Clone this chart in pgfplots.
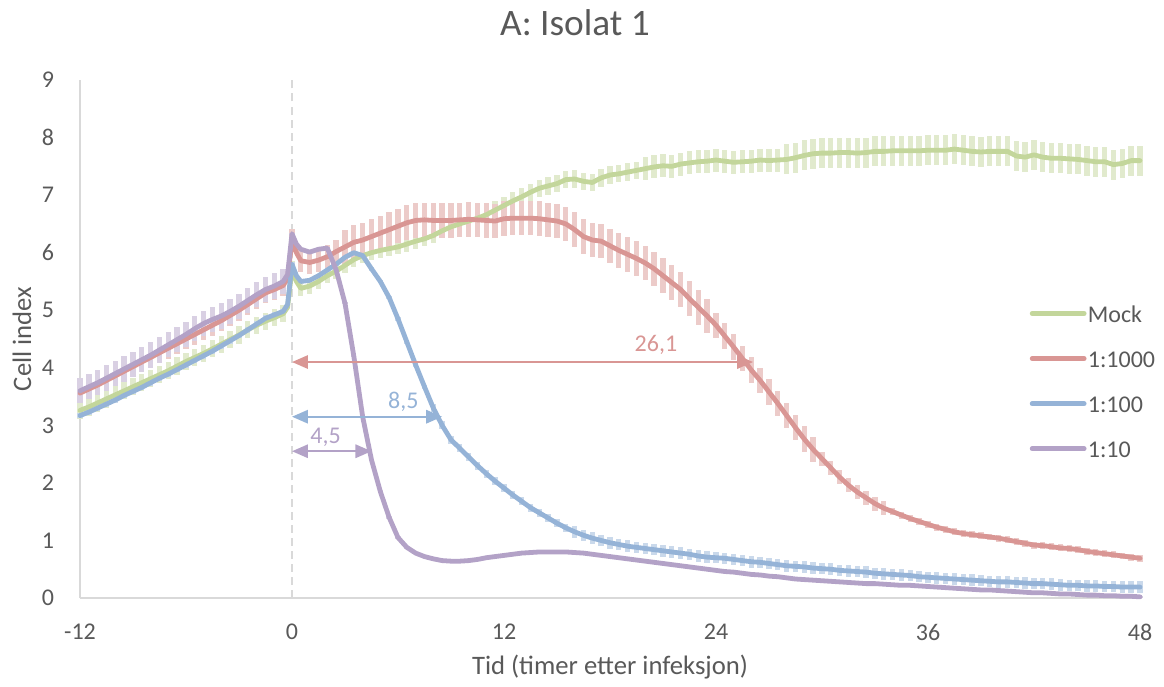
\documentclass[border=0pt]{standalone}
\usepackage{pgfplots}
\pgfplotsset{compat=1.18}
\usepackage{pgfplotstable}
\usepackage{fontspec}
\setmainfont{Carlito}
\usetikzlibrary{arrows.meta}

\definecolor{txt}{HTML}{595959}
\definecolor{axisgray}{HTML}{D9D9D9}
\definecolor{mock}{HTML}{C3D69B}
\definecolor{dilA}{HTML}{D99694}
\definecolor{dilB}{HTML}{95B3D7}
\definecolor{dilC}{HTML}{B3A2C7}

% columns: time (h), mean cell index, standard deviation
\pgfplotstableread{
t v e
-12 3.26 0.15
-11.5 3.32 0.15
-11 3.39 0.15
-10.5 3.46 0.15
-10 3.53 0.15
-9.5 3.60 0.15
-9 3.67 0.15
-8.5 3.74 0.15
-8 3.81 0.15
-7.5 3.88 0.15
-7 3.95 0.15
-6.5 4.03 0.15
-6 4.11 0.15
-5.5 4.18 0.15
-5 4.25 0.15
-4.5 4.33 0.15
-4 4.41 0.15
-3.5 4.49 0.15
-3 4.57 0.15
-2.5 4.66 0.15
-2 4.74 0.15
-1.5 4.81 0.15
-1 4.87 0.15
-0.5 4.94 0.15
-0.25 5.05 0
0 5.72 0.13
0.25 5.50 0
0.5 5.38 0.13
1 5.42 0.13
1.5 5.50 0.13
2 5.60 0.13
2.5 5.68 0.13
3 5.78 0.13
3.5 5.88 0.13
4 5.95 0.13
4.5 6.00 0.13
5 6.04 0.13
5.5 6.07 0.13
6 6.10 0.13
6.5 6.15 0.13
7 6.20 0.13
7.5 6.24 0.13
8 6.30 0.13
8.5 6.38 0.13
9 6.45 0.13
9.5 6.50 0.13
10 6.55 0.15
10.5 6.60 0.15
11 6.66 0.15
11.5 6.74 0.15
12 6.82 0.15
12.5 6.90 0.15
13 6.97 0.15
13.5 7.05 0.15
14 7.12 0.15
14.5 7.16 0.15
15 7.20 0.15
15.5 7.27 0.15
16 7.28 0.15
16.5 7.24 0.15
17 7.22 0.15
17.5 7.30 0.15
18 7.35 0.15
18.5 7.37 0.15
19 7.40 0.15
19.5 7.43 0.15
20 7.46 0.2
20.5 7.49 0.2
21 7.51 0.2
21.5 7.50 0.2
22 7.54 0.2
22.5 7.56 0.2
23 7.58 0.2
23.5 7.59 0.2
24 7.61 0.2
24.5 7.59 0.2
25 7.57 0.2
25.5 7.58 0.2
26 7.59 0.2
26.5 7.61 0.2
27 7.60 0.2
27.5 7.61 0.2
28 7.62 0.26
28.5 7.65 0.26
29 7.69 0.26
29.5 7.72 0.26
30 7.73 0.26
30.5 7.73 0.26
31 7.74 0.26
31.5 7.74 0.26
32 7.73 0.26
32.5 7.74 0.26
33 7.76 0.26
33.5 7.76 0.26
34 7.77 0.26
34.5 7.77 0.26
35 7.77 0.26
35.5 7.77 0.26
36 7.78 0.26
36.5 7.78 0.26
37 7.78 0.26
37.5 7.80 0.26
38 7.78 0.26
38.5 7.76 0.26
39 7.75 0.26
39.5 7.76 0.26
40 7.76 0.26
40.5 7.76 0.26
41 7.68 0.26
41.5 7.66 0.26
42 7.70 0.26
42.5 7.66 0.26
43 7.64 0.26
43.5 7.64 0.26
44 7.63 0.26
44.5 7.62 0.26
45 7.60 0.26
45.5 7.58 0.26
46 7.58 0.26
46.5 7.53 0.26
47 7.55 0.26
47.5 7.60 0.26
48 7.60 0.26
}\mock

\pgfplotstableread{
t v e
-12 3.56 0.18
-11.5 3.63 0.18
-11 3.70 0.18
-10.5 3.78 0.18
-10 3.86 0.18
-9.5 3.94 0.18
-9 4.02 0.18
-8.5 4.10 0.18
-8 4.18 0.18
-7.5 4.26 0.18
-7 4.34 0.18
-6.5 4.42 0.18
-6 4.50 0.18
-5.5 4.58 0.18
-5 4.66 0.18
-4.5 4.74 0.18
-4 4.82 0.18
-3.5 4.91 0.18
-3 5.00 0.18
-2.5 5.10 0.18
-2 5.20 0.18
-1.5 5.30 0.18
-1 5.36 0.18
-0.5 5.43 0.18
-0.25 5.55 0
0 6.22 0.2
0.25 6.00 0
0.5 5.86 0.2
1 5.83 0.2
1.5 5.87 0.2
2 5.93 0.2
2.5 6.02 0.2
3 6.10 0.3
3.5 6.18 0.3
4 6.22 0.3
4.5 6.28 0.3
5 6.34 0.3
5.5 6.40 0.3
6 6.46 0.3
6.5 6.52 0.3
7 6.56 0.3
7.5 6.57 0.3
8 6.56 0.3
8.5 6.56 0.3
9 6.56 0.3
9.5 6.57 0.3
10 6.58 0.3
10.5 6.57 0.3
11 6.56 0.3
11.5 6.55 0.3
12 6.59 0.3
12.5 6.60 0.3
13 6.60 0.3
13.5 6.60 0.3
14 6.59 0.3
14.5 6.57 0.3
15 6.55 0.3
15.5 6.50 0.3
16 6.40 0.3
16.5 6.28 0.3
17 6.22 0.3
17.5 6.20 0.3
18 6.12 0.3
18.5 6.04 0.3
19 5.97 0.3
19.5 5.90 0.3
20 5.82 0.3
20.5 5.72 0.3
21 5.60 0.3
21.5 5.48 0.3
22 5.36 0.3
22.5 5.20 0.3
23 5.05 0.3
23.5 4.90 0.3
24 4.74 0.22
24.5 4.55 0.22
25 4.36 0.22
25.5 4.16 0.22
26 3.96 0.22
26.5 3.78 0.22
27 3.58 0.22
27.5 3.38 0.22
28 3.17 0.22
28.5 2.96 0.22
29 2.76 0.22
29.5 2.58 0.22
30 2.42 0.12
30.5 2.26 0.12
31 2.10 0.12
31.5 1.96 0.12
32 1.84 0.12
32.5 1.74 0.12
33 1.64 0.12
33.5 1.56 0.12
34 1.50 0.06
34.5 1.44 0.06
35 1.38 0.06
35.5 1.33 0.06
36 1.28 0.06
36.5 1.23 0.06
37 1.19 0.06
37.5 1.15 0.06
38 1.12 0.06
38.5 1.10 0.06
39 1.08 0.06
39.5 1.06 0.06
40 1.04 0.06
40.5 1.01 0.06
41 0.98 0.06
41.5 0.95 0.06
42 0.92 0.06
42.5 0.91 0.06
43 0.89 0.06
43.5 0.87 0.06
44 0.86 0.06
44.5 0.84 0.06
45 0.81 0.06
45.5 0.79 0.06
46 0.77 0.06
46.5 0.75 0.06
47 0.73 0.06
47.5 0.71 0.06
48 0.69 0.06
}\dilthousand

\pgfplotstableread{
t v e
-12 3.17 0.05
-11.5 3.23 0.05
-11 3.30 0.05
-10.5 3.37 0.05
-10 3.44 0.05
-9.5 3.52 0.05
-9 3.59 0.05
-8.5 3.66 0.05
-8 3.74 0.05
-7.5 3.82 0.05
-7 3.89 0.05
-6.5 3.97 0.05
-6 4.05 0.05
-5.5 4.13 0.05
-5 4.21 0.05
-4.5 4.29 0.05
-4 4.38 0.05
-3.5 4.47 0.05
-3 4.56 0.05
-2.5 4.66 0.05
-2 4.76 0.05
-1.5 4.86 0.05
-1 4.92 0.05
-0.5 4.98 0.05
-0.25 5.10 0
0 5.80 0.03
0.25 5.60 0
0.5 5.50 0.03
1 5.52 0.03
1.5 5.60 0.03
2 5.70 0.03
2.5 5.80 0.03
3 5.92 0.03
3.5 6.00 0.03
4 5.95 0.03
4.5 5.72 0.03
5 5.50 0.03
5.5 5.22 0.03
6 4.85 0.03
6.5 4.45 0.03
7 4.05 0.03
7.5 3.67 0.03
8 3.30 0.07
8.5 3.00 0.07
9 2.75 0.07
9.5 2.60 0.07
10 2.45 0.07
10.5 2.30 0.07
11 2.16 0.07
11.5 2.03 0.07
12 1.91 0.07
12.5 1.79 0.07
13 1.68 0.07
13.5 1.57 0.07
14 1.48 0.07
14.5 1.39 0.07
15 1.30 0.07
15.5 1.22 0.07
16 1.15 0.1
16.5 1.09 0.1
17 1.04 0.1
17.5 1.00 0.1
18 0.96 0.1
18.5 0.93 0.1
19 0.90 0.1
19.5 0.88 0.1
20 0.86 0.1
20.5 0.84 0.1
21 0.82 0.1
21.5 0.80 0.1
22 0.78 0.1
22.5 0.76 0.1
23 0.73 0.1
23.5 0.71 0.1
24 0.70 0.1
24.5 0.69 0.1
25 0.67 0.1
25.5 0.65 0.1
26 0.63 0.1
26.5 0.62 0.1
27 0.60 0.1
27.5 0.58 0.1
28 0.56 0.1
28.5 0.55 0.1
29 0.54 0.1
29.5 0.52 0.1
30 0.51 0.1
30.5 0.50 0.1
31 0.48 0.1
31.5 0.47 0.1
32 0.46 0.1
32.5 0.45 0.1
33 0.43 0.1
33.5 0.42 0.1
34 0.41 0.1
34.5 0.40 0.1
35 0.39 0.1
35.5 0.37 0.1
36 0.36 0.1
36.5 0.35 0.1
37 0.34 0.1
37.5 0.33 0.1
38 0.32 0.1
38.5 0.31 0.1
39 0.30 0.1
39.5 0.29 0.1
40 0.28 0.1
40.5 0.28 0.1
41 0.27 0.1
41.5 0.26 0.1
42 0.25 0.1
42.5 0.25 0.1
43 0.24 0.1
43.5 0.23 0.1
44 0.22 0.1
44.5 0.22 0.1
45 0.21 0.1
45.5 0.21 0.1
46 0.20 0.1
46.5 0.20 0.1
47 0.19 0.1
47.5 0.19 0.1
48 0.19 0.1
}\dilhundred

\pgfplotstableread{
t v e
-12 3.60 0.22
-11.5 3.67 0.22
-11 3.74 0.22
-10.5 3.82 0.22
-10 3.90 0.22
-9.5 3.98 0.22
-9 4.06 0.22
-8.5 4.14 0.22
-8 4.22 0.22
-7.5 4.31 0.22
-7 4.40 0.22
-6.5 4.49 0.22
-6 4.58 0.22
-5.5 4.68 0.22
-5 4.77 0.22
-4.5 4.84 0.22
-4 4.90 0.22
-3.5 4.98 0.22
-3 5.07 0.22
-2.5 5.17 0.22
-2 5.27 0.22
-1.5 5.36 0.22
-1 5.42 0.22
-0.5 5.50 0.22
-0.25 5.62 0
0 6.33 0.02
0.25 6.15 0
0.5 6.06 0.02
1 6.01 0.02
1.5 6.06 0.02
2 6.08 0.02
2.5 5.70 0.02
3 5.12 0.02
3.5 4.20 0.02
4 3.15 0.02
4.5 2.40 0.02
5 1.85 0.02
5.5 1.40 0.02
6 1.05 0.02
6.5 0.88 0.02
7 0.78 0.02
7.5 0.72 0.02
8 0.68 0.02
8.5 0.65 0.02
9 0.64 0.02
9.5 0.64 0.02
10 0.65 0.02
10.5 0.67 0.02
11 0.70 0.02
11.5 0.72 0.02
12 0.74 0.02
12.5 0.76 0.02
13 0.78 0.02
13.5 0.79 0.02
14 0.80 0.02
14.5 0.80 0.02
15 0.80 0.02
15.5 0.80 0.02
16 0.79 0.02
16.5 0.78 0.02
17 0.76 0.02
17.5 0.74 0.02
18 0.72 0.02
18.5 0.70 0.02
19 0.68 0.02
19.5 0.66 0.02
20 0.64 0.02
20.5 0.62 0.02
21 0.60 0.02
21.5 0.58 0.02
22 0.56 0.02
22.5 0.54 0.02
23 0.52 0.02
23.5 0.50 0.02
24 0.48 0.02
24.5 0.46 0.02
25 0.45 0.02
25.5 0.43 0.02
26 0.41 0.02
26.5 0.40 0.02
27 0.38 0.02
27.5 0.37 0.02
28 0.35 0.02
28.5 0.33 0.02
29 0.32 0.02
29.5 0.31 0.02
30 0.30 0.02
30.5 0.29 0.02
31 0.28 0.02
31.5 0.27 0.02
32 0.26 0.02
32.5 0.25 0.02
33 0.25 0.02
33.5 0.24 0.02
34 0.23 0.02
34.5 0.22 0.02
35 0.22 0.02
35.5 0.21 0.02
36 0.20 0.02
36.5 0.19 0.02
37 0.18 0.02
37.5 0.17 0.02
38 0.16 0.02
38.5 0.15 0.02
39 0.14 0.02
39.5 0.14 0.02
40 0.13 0.02
40.5 0.12 0.02
41 0.11 0.02
41.5 0.10 0.02
42 0.09 0.02
42.5 0.09 0.02
43 0.08 0.02
43.5 0.07 0.02
44 0.07 0.02
44.5 0.06 0.02
45 0.05 0.02
45.5 0.05 0.02
46 0.04 0.02
46.5 0.04 0.02
47 0.03 0.02
47.5 0.03 0.02
48 0.02 0.02
}\dilten

\pgfplotsset{
  sdbars/.style={forget plot, draw=none, mark=none,
    error bars/.cd, y dir=both, y explicit, error mark=none,
    error bar style={draw=#1, line width=2pt, solid}},
  meanline/.style={draw=#1, line width=1.8pt, line cap=round, line join=round, mark=none},
}

\begin{document}
\begin{tikzpicture}[font=\fontsize{9pt}{11pt}\selectfont, text=txt]
\path[use as bounding box] (-30pt,-33pt) rectangle (406.5pt,224.25pt);
\begin{axis}[
  scale only axis,
  width=397.5pt, height=194.25pt,
  xmin=-12, xmax=48, ymin=0, ymax=9,
  axis x line*=bottom, axis y line*=left,
  axis line style={draw=axisgray, line width=0.75pt, -},
  major tick length=0pt,
  xtick={-12,0,12,24,36,48},
  xticklabels={-12,0,12,24,36,48},
  ytick={0,1,...,9},
  yticklabels={0,1,2,3,4,5,6,7,8,9},
  xticklabel style={anchor=center, inner sep=0pt, yshift=-12.8pt, text=txt},
  yticklabel style={anchor=east, inner sep=0pt, xshift=-9.5pt, text=txt},
  title={A: Isolat 1},
  title style={at={(0.467,1.079)}, anchor=center, font=\fontsize{14pt}{16pt}\selectfont, text=txt},
  xlabel={Tid (timer etter infeksjon)},
  xlabel style={at={(0.5,-0.1332)}, anchor=center, font=\fontsize{10pt}{12pt}\selectfont, text=txt},
  ylabel={Cell index},
  ylabel style={at={(-0.0547,0.5)}, anchor=center, font=\fontsize{10pt}{12pt}\selectfont, text=txt},
  legend style={draw=none, fill=none, at={(0.896,0.566)}, anchor=north west,
    inner sep=0pt, outer sep=0pt, row sep=10.4pt,
    nodes={inner sep=0pt, text height=6.5pt, text depth=0pt, text=txt, font=\fontsize{9pt}{11pt}\selectfont}},
  legend cell align=left,
  legend image code/.code={\draw[#1] (0pt,0pt) -- (19.5pt,0pt);},
  clip=false,
]
% vertical marker at the time of infection
\draw[axisgray, line width=1pt, dash pattern=on 3pt off 1.9pt] (axis cs:0,0) -- (axis cs:0,9);

% standard deviations first, so the mean curves lie on top
\addplot[sdbars=mock!50] table[x=t, y=v, y error=e] {\mock};
\addplot[sdbars=dilA!50] table[x=t, y=v, y error=e] {\dilthousand};
\addplot[sdbars=dilB!50] table[x=t, y=v, y error=e] {\dilhundred};
\addplot[sdbars=dilC!50] table[x=t, y=v, y error=e] {\dilten};

\addplot[meanline=mock] table[x=t, y=v] {\mock};
\addlegendentry{\hspace{0.5pt}Mock}
\addplot[meanline=dilA] table[x=t, y=v] {\dilthousand};
\addlegendentry{\hspace{0.5pt}1:1000}
\addplot[meanline=dilB] table[x=t, y=v] {\dilhundred};
\addlegendentry{\hspace{0.5pt}1:100}
\addplot[meanline=dilC] table[x=t, y=v] {\dilten};
\addlegendentry{\hspace{0.5pt}1:10}

% time from infection until the cell index drops
\draw[dilA, line width=0.8pt, {Triangle[length=6pt,width=5pt]}-{Triangle[length=6pt,width=5pt]}] (axis cs:0,4.1) -- (axis cs:26.1,4.1);
\node[dilA, anchor=base, inner sep=0pt, yshift=4pt] at (axis cs:20.6,4.1) {26,1};
\draw[dilB, line width=0.8pt, {Triangle[length=6pt,width=5pt]}-{Triangle[length=6pt,width=5pt]}] (axis cs:0,3.15) -- (axis cs:8.5,3.15);
\node[dilB, anchor=base, inner sep=0pt, yshift=3pt] at (axis cs:6.3,3.15) {8,5};
\draw[dilC, line width=0.8pt, {Triangle[length=6pt,width=5pt]}-{Triangle[length=6pt,width=5pt]}] (axis cs:0,2.55) -- (axis cs:4.5,2.55);
\node[dilC, anchor=base, inner sep=0pt, yshift=3pt] at (axis cs:1.9,2.55) {4,5};
\end{axis}
\end{tikzpicture}
\end{document}
